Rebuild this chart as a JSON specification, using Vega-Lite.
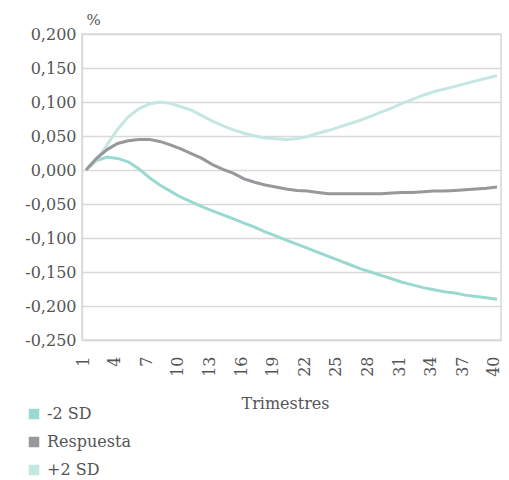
{
  "$schema": "https://vega.github.io/schema/vega-lite/v6.json",
  "autosize": {"type": "none"},
  "width": 419,
  "height": 306,
  "padding": {"left": 82, "top": 34, "right": 8, "bottom": 140},
  "background": "white",
  "config": {
    "font": "DejaVu Serif",
    "locale": {"number": {"decimal": ",", "thousands": ".", "grouping": [3], "currency": ["", " €"], "minus": "-"}},
    "view": {"stroke": "#d9d9d9", "strokeWidth": 1.5},
    "axis": {
      "labelFont": "DejaVu Serif",
      "labelFontSize": 16,
      "labelColor": "#555555",
      "titleFont": "DejaVu Serif",
      "titleFontSize": 16,
      "titleFontWeight": "normal",
      "titleColor": "#555555",
      "domainColor": "#d9d9d9",
      "domainWidth": 1.5,
      "gridColor": "#d9d9d9",
      "gridWidth": 1.5,
      "ticks": false
    },
    "legend": {
      "labelFont": "DejaVu Serif",
      "labelFontSize": 16,
      "labelColor": "#555555"
    }
  },
  "data": {
    "values": [
      {"q": 1, "serie": "-2 SD", "v": 0.000}, {"q": 2, "serie": "-2 SD", "v": 0.014}, {"q": 3, "serie": "-2 SD", "v": 0.019}, {"q": 4, "serie": "-2 SD", "v": 0.017},
      {"q": 5, "serie": "-2 SD", "v": 0.012}, {"q": 6, "serie": "-2 SD", "v": 0.002}, {"q": 7, "serie": "-2 SD", "v": -0.011}, {"q": 8, "serie": "-2 SD", "v": -0.022},
      {"q": 9, "serie": "-2 SD", "v": -0.031}, {"q": 10, "serie": "-2 SD", "v": -0.040}, {"q": 11, "serie": "-2 SD", "v": -0.047}, {"q": 12, "serie": "-2 SD", "v": -0.054},
      {"q": 13, "serie": "-2 SD", "v": -0.060}, {"q": 14, "serie": "-2 SD", "v": -0.066}, {"q": 15, "serie": "-2 SD", "v": -0.072}, {"q": 16, "serie": "-2 SD", "v": -0.078},
      {"q": 17, "serie": "-2 SD", "v": -0.084}, {"q": 18, "serie": "-2 SD", "v": -0.091}, {"q": 19, "serie": "-2 SD", "v": -0.097}, {"q": 20, "serie": "-2 SD", "v": -0.103},
      {"q": 21, "serie": "-2 SD", "v": -0.109}, {"q": 22, "serie": "-2 SD", "v": -0.115}, {"q": 23, "serie": "-2 SD", "v": -0.121}, {"q": 24, "serie": "-2 SD", "v": -0.127},
      {"q": 25, "serie": "-2 SD", "v": -0.133}, {"q": 26, "serie": "-2 SD", "v": -0.139}, {"q": 27, "serie": "-2 SD", "v": -0.145}, {"q": 28, "serie": "-2 SD", "v": -0.150},
      {"q": 29, "serie": "-2 SD", "v": -0.155}, {"q": 30, "serie": "-2 SD", "v": -0.160}, {"q": 31, "serie": "-2 SD", "v": -0.165}, {"q": 32, "serie": "-2 SD", "v": -0.169},
      {"q": 33, "serie": "-2 SD", "v": -0.173}, {"q": 34, "serie": "-2 SD", "v": -0.176}, {"q": 35, "serie": "-2 SD", "v": -0.179}, {"q": 36, "serie": "-2 SD", "v": -0.181},
      {"q": 37, "serie": "-2 SD", "v": -0.184}, {"q": 38, "serie": "-2 SD", "v": -0.186}, {"q": 39, "serie": "-2 SD", "v": -0.188}, {"q": 40, "serie": "-2 SD", "v": -0.190},

      {"q": 1, "serie": "+2 SD", "v": 0.000}, {"q": 2, "serie": "+2 SD", "v": 0.015}, {"q": 3, "serie": "+2 SD", "v": 0.037}, {"q": 4, "serie": "+2 SD", "v": 0.060},
      {"q": 5, "serie": "+2 SD", "v": 0.078}, {"q": 6, "serie": "+2 SD", "v": 0.090}, {"q": 7, "serie": "+2 SD", "v": 0.097}, {"q": 8, "serie": "+2 SD", "v": 0.100},
      {"q": 9, "serie": "+2 SD", "v": 0.098}, {"q": 10, "serie": "+2 SD", "v": 0.093}, {"q": 11, "serie": "+2 SD", "v": 0.088}, {"q": 12, "serie": "+2 SD", "v": 0.080},
      {"q": 13, "serie": "+2 SD", "v": 0.072}, {"q": 14, "serie": "+2 SD", "v": 0.065}, {"q": 15, "serie": "+2 SD", "v": 0.059}, {"q": 16, "serie": "+2 SD", "v": 0.054},
      {"q": 17, "serie": "+2 SD", "v": 0.050}, {"q": 18, "serie": "+2 SD", "v": 0.047}, {"q": 19, "serie": "+2 SD", "v": 0.046}, {"q": 20, "serie": "+2 SD", "v": 0.045},
      {"q": 21, "serie": "+2 SD", "v": 0.046}, {"q": 22, "serie": "+2 SD", "v": 0.049}, {"q": 23, "serie": "+2 SD", "v": 0.054}, {"q": 24, "serie": "+2 SD", "v": 0.058},
      {"q": 25, "serie": "+2 SD", "v": 0.063}, {"q": 26, "serie": "+2 SD", "v": 0.068}, {"q": 27, "serie": "+2 SD", "v": 0.073}, {"q": 28, "serie": "+2 SD", "v": 0.079},
      {"q": 29, "serie": "+2 SD", "v": 0.085}, {"q": 30, "serie": "+2 SD", "v": 0.091}, {"q": 31, "serie": "+2 SD", "v": 0.098}, {"q": 32, "serie": "+2 SD", "v": 0.104},
      {"q": 33, "serie": "+2 SD", "v": 0.110}, {"q": 34, "serie": "+2 SD", "v": 0.115}, {"q": 35, "serie": "+2 SD", "v": 0.119}, {"q": 36, "serie": "+2 SD", "v": 0.123},
      {"q": 37, "serie": "+2 SD", "v": 0.127}, {"q": 38, "serie": "+2 SD", "v": 0.131}, {"q": 39, "serie": "+2 SD", "v": 0.135}, {"q": 40, "serie": "+2 SD", "v": 0.139},

      {"q": 1, "serie": "Respuesta", "v": 0.000}, {"q": 2, "serie": "Respuesta", "v": 0.017}, {"q": 3, "serie": "Respuesta", "v": 0.030}, {"q": 4, "serie": "Respuesta", "v": 0.039},
      {"q": 5, "serie": "Respuesta", "v": 0.043}, {"q": 6, "serie": "Respuesta", "v": 0.045}, {"q": 7, "serie": "Respuesta", "v": 0.045}, {"q": 8, "serie": "Respuesta", "v": 0.042},
      {"q": 9, "serie": "Respuesta", "v": 0.037}, {"q": 10, "serie": "Respuesta", "v": 0.031}, {"q": 11, "serie": "Respuesta", "v": 0.024}, {"q": 12, "serie": "Respuesta", "v": 0.017},
      {"q": 13, "serie": "Respuesta", "v": 0.008}, {"q": 14, "serie": "Respuesta", "v": 0.001}, {"q": 15, "serie": "Respuesta", "v": -0.005}, {"q": 16, "serie": "Respuesta", "v": -0.013},
      {"q": 17, "serie": "Respuesta", "v": -0.018}, {"q": 18, "serie": "Respuesta", "v": -0.022}, {"q": 19, "serie": "Respuesta", "v": -0.025}, {"q": 20, "serie": "Respuesta", "v": -0.028},
      {"q": 21, "serie": "Respuesta", "v": -0.030}, {"q": 22, "serie": "Respuesta", "v": -0.031}, {"q": 23, "serie": "Respuesta", "v": -0.033}, {"q": 24, "serie": "Respuesta", "v": -0.035},
      {"q": 25, "serie": "Respuesta", "v": -0.035}, {"q": 26, "serie": "Respuesta", "v": -0.035}, {"q": 27, "serie": "Respuesta", "v": -0.035}, {"q": 28, "serie": "Respuesta", "v": -0.035},
      {"q": 29, "serie": "Respuesta", "v": -0.035}, {"q": 30, "serie": "Respuesta", "v": -0.034}, {"q": 31, "serie": "Respuesta", "v": -0.033}, {"q": 32, "serie": "Respuesta", "v": -0.033},
      {"q": 33, "serie": "Respuesta", "v": -0.032}, {"q": 34, "serie": "Respuesta", "v": -0.031}, {"q": 35, "serie": "Respuesta", "v": -0.031}, {"q": 36, "serie": "Respuesta", "v": -0.030},
      {"q": 37, "serie": "Respuesta", "v": -0.029}, {"q": 38, "serie": "Respuesta", "v": -0.028}, {"q": 39, "serie": "Respuesta", "v": -0.027}, {"q": 40, "serie": "Respuesta", "v": -0.025}
    ]
  },
  "mark": {"type": "line", "strokeWidth": 3, "interpolate": "linear"},
  "encoding": {
    "x": {
      "field": "q",
      "type": "quantitative",
      "scale": {"domain": [0.62, 40.38], "nice": false, "zero": false},
      "axis": {
        "title": "Trimestres",
        "values": [1, 4, 7, 10, 13, 16, 19, 22, 25, 28, 31, 34, 37, 40],
        "format": "d",
        "labelAngle": -90,
        "labelPadding": 16,
        "labelOffset": -3,
        "grid": false,
        "titleX": 203,
        "titleY": 68,
        "titleBaseline": "alphabetic"
      }
    },
    "y": {
      "field": "v",
      "type": "quantitative",
      "scale": {"domain": [-0.25, 0.2], "nice": false, "zero": false},
      "axis": {
        "title": "%",
        "titleAngle": 0,
        "titleAlign": "left",
        "titleBaseline": "alphabetic",
        "titleX": 4,
        "titleY": -10,
        "titleFontSize": 15,
        "values": [-0.25, -0.2, -0.15, -0.1, -0.05, 0, 0.05, 0.1, 0.15, 0.2],
        "format": ".3f",
        "labelPadding": 6,
        "grid": true
      }
    },
    "color": {
      "field": "serie",
      "type": "nominal",
      "scale": {"domain": ["-2 SD", "Respuesta", "+2 SD"], "range": ["#99d9cf", "#98989c", "#c4e7e2"]},
      "legend": {
        "title": null,
        "orient": "none",
        "legendX": -56,
        "legendY": 372,
        "direction": "vertical",
        "symbolType": "square",
        "symbolSize": 110,
        "symbolStrokeWidth": 0,
        "labelOffset": 5,
        "rowPadding": 12,
        "encode": {
          "symbols": {"update": {"fill": {"scale": "color", "field": "value"}, "stroke": {"value": "transparent"}}}
        }
      }
    },
    "order": {"field": "q", "type": "quantitative"}
  }
}
